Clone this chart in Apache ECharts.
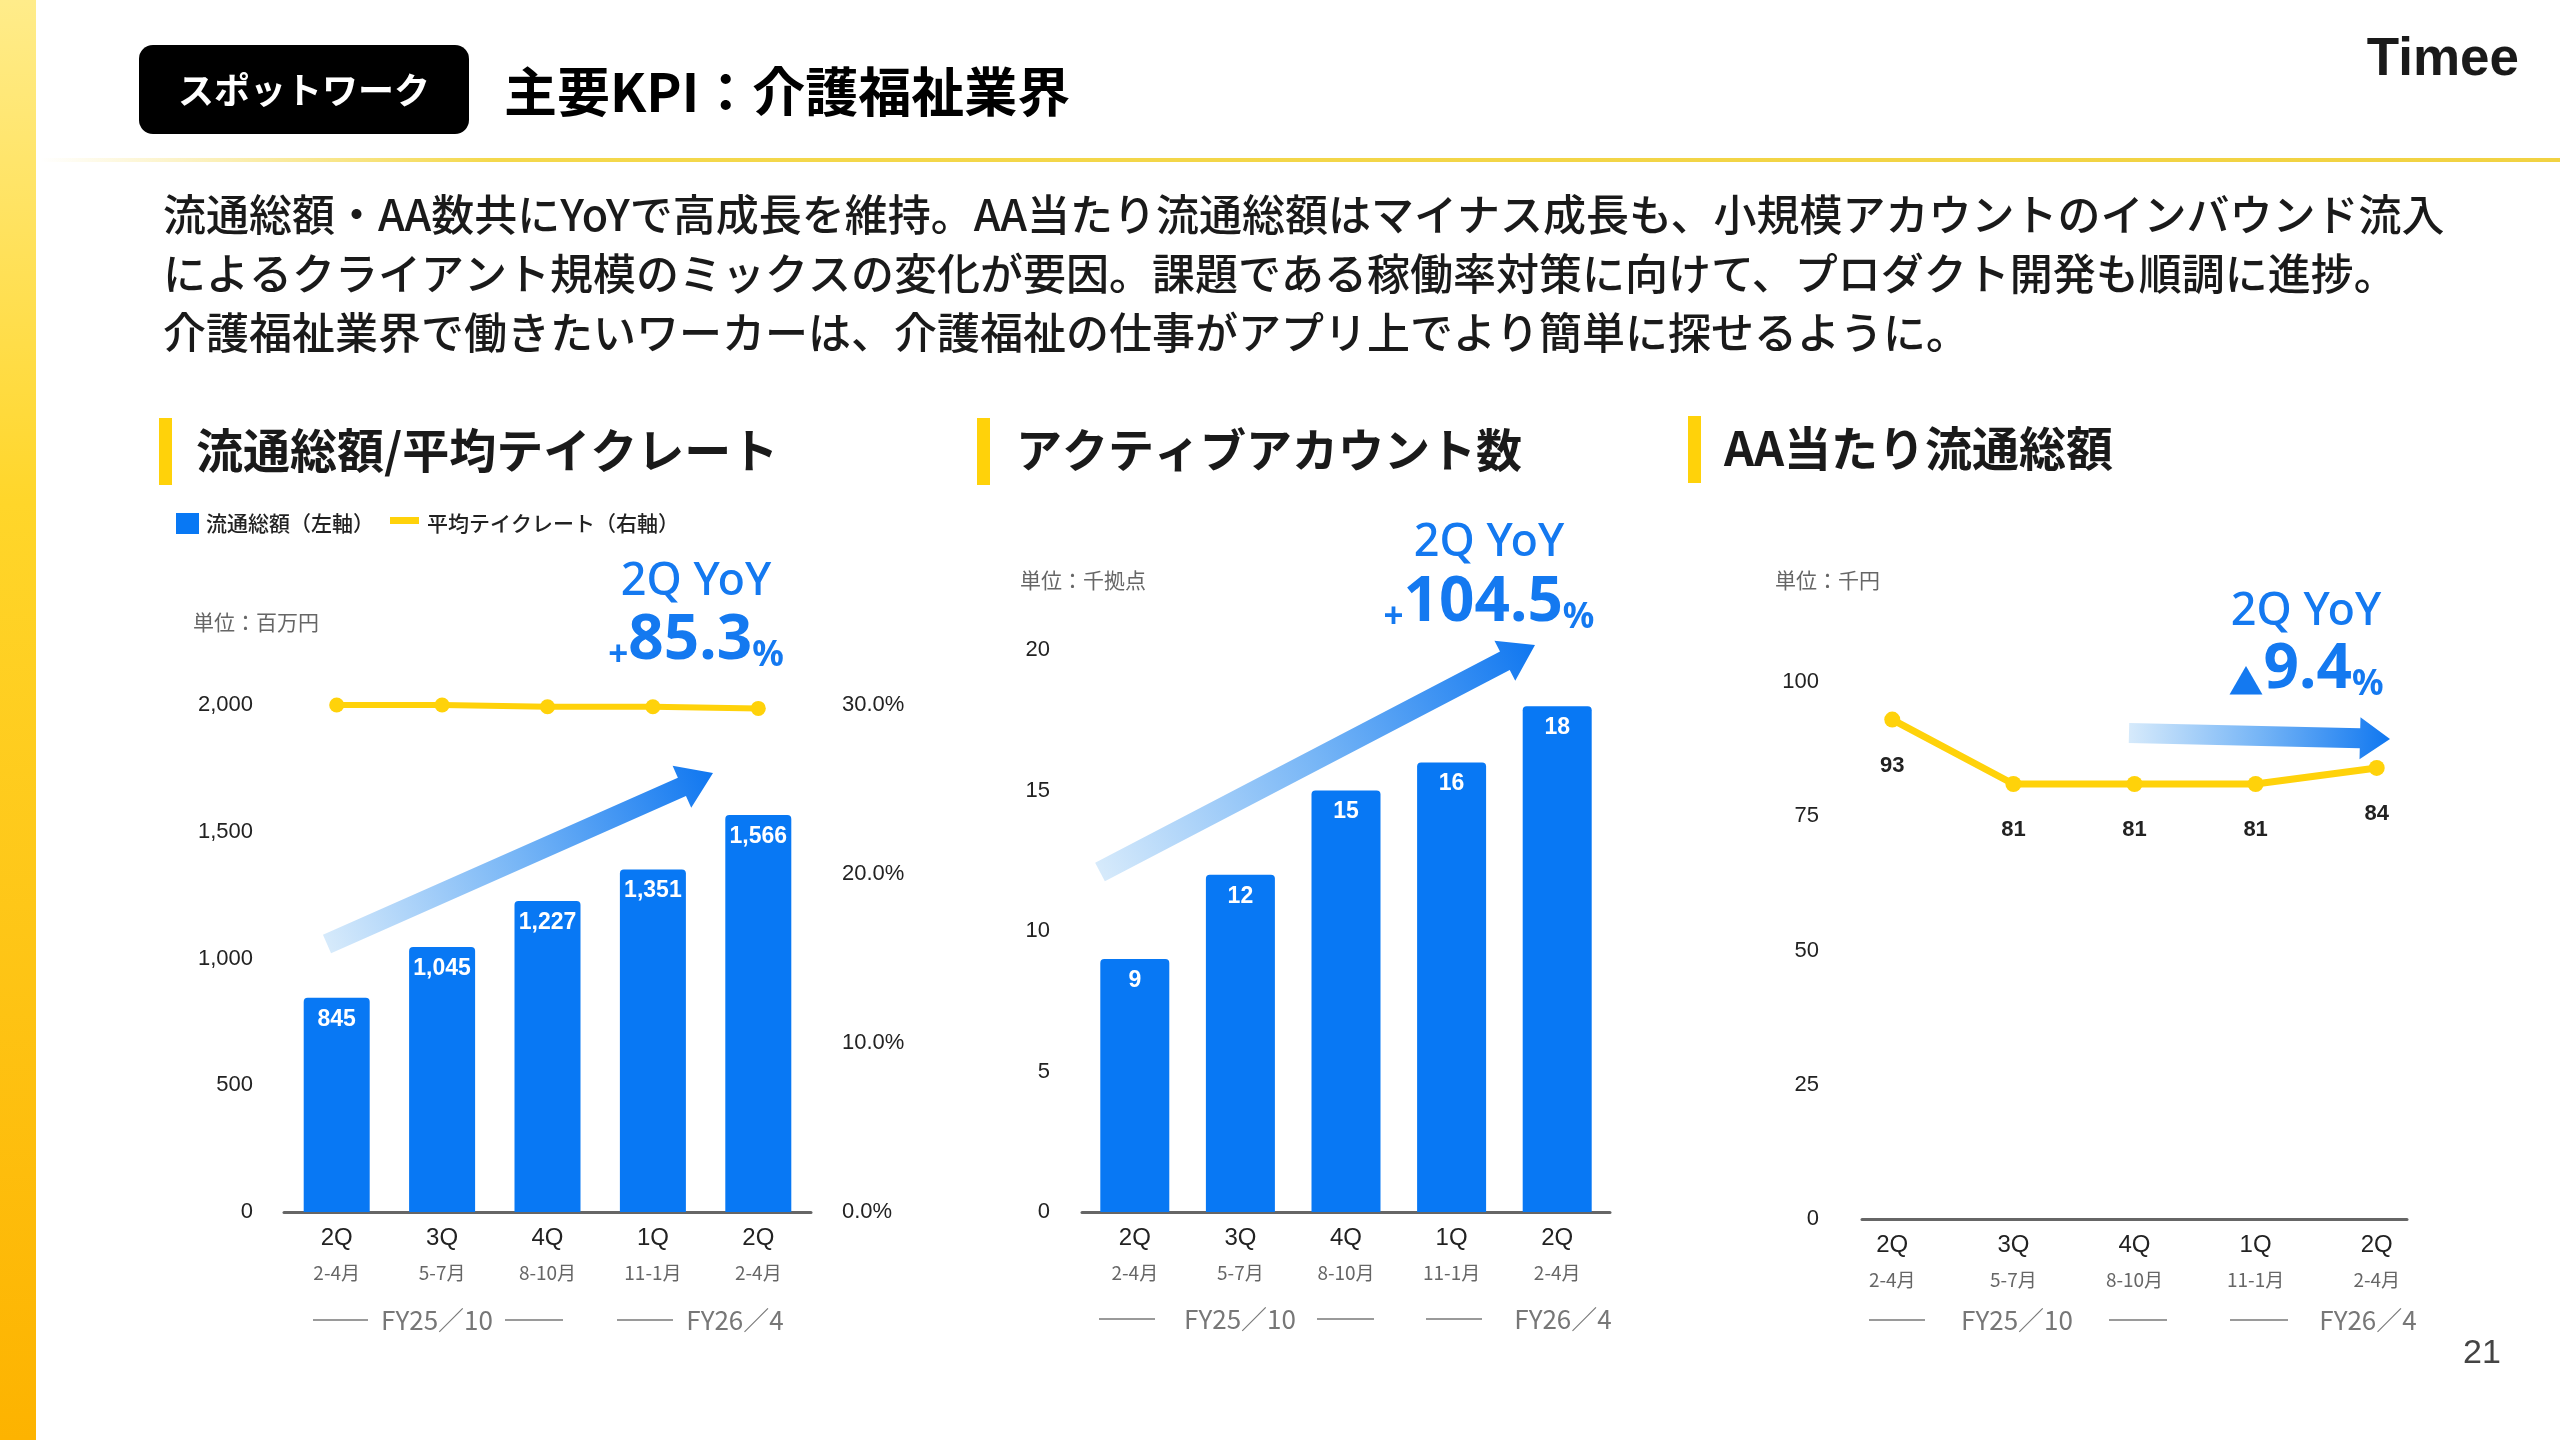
<!DOCTYPE html>
<html><head><meta charset="utf-8">
<script src="https://cdn.jsdelivr.net/npm/echarts@6/dist/echarts.min.js"></script>
<style>html,body{margin:0;padding:0;background:#fff}#c{width:2560px;height:1440px}</style>
</head><body><div id="c"></div>
<script>
// ---- data ----
const categories = ['2Q','3Q','4Q','1Q','2Q'];
const months = ['2-4月','5-7月','8-10月','11-1月','2-4月'];
const fiscalYears = ['FY25/10','FY25/10','FY25/10','FY26/4','FY26/4'];
const gmv = [845, 1045, 1227, 1351, 1566];            // 流通総額 (百万円)
const takeRate = [30.0, 30.0, 29.9, 29.9, 29.8];      // 平均テイクレート (%)
const activeAccounts = [9, 12, 15, 16, 18];           // アクティブアカウント数 (千拠点)
const gmvPerAA = [93, 81, 81, 81, 84];                // AA当たり流通総額 (千円)
const gmvTicks = [0, 500, 1000, 1500, 2000];
const rateTicks = [0, 10, 20, 30];
const aaTicks = [0, 5, 10, 15, 20];
const perAATicks = [0, 25, 50, 75, 100];

const JP = "'Noto Sans CJK JP', sans-serif";
const NUM = "'Liberation Sans','Noto Sans CJK JP', sans-serif";
const BLUE = '#0878F4';
const YEL = '#FFD20A';
const TXTBLUE = '#1479F0';

const keys = categories.map((c, i) => fiscalYears[i] + ' ' + c);
const xRich = {
  q: {fontSize: 24, color: '#222', fontFamily: NUM, lineHeight: 34},
  m: {fontSize: 19, color: '#666', fontFamily: JP, lineHeight: 36}
};
const xFmt = i => '{q|' + categories[i] + '}\n{m|' + months[i] + '}';

const chart = echarts.init(document.getElementById('c'));

function txt(x, y, text, o) {
  o = o || {};
  return {type: 'text', z: 50, style: Object.assign({
    text: text, x: x, y: y, fill: o.fill || '#1a1a1a',
    fontSize: o.size || 20, fontWeight: o.weight || 'normal',
    fontFamily: o.family || JP, align: o.align || 'left', verticalAlign: 'middle'
  }, o.extra || {})};
}
function rect(x, y, w, h, fill, r) {
  return {type: 'rect', z: 40, shape: {x: x, y: y, width: w, height: h, r: r || 0}, style: {fill: fill}};
}
function line(x1, x2, y) {
  return {type: 'line', z: 40, shape: {x1: x1, y1: y, x2: x2, y2: y}, style: {stroke: '#9a9a9a', lineWidth: 2}};
}
function arrow(t, p, sw, hw, hl) {
  const dx = p[0] - t[0], dy = p[1] - t[1], L = Math.hypot(dx, dy);
  const ux = dx / L, uy = dy / L, nx = -uy, ny = ux;
  const bx = p[0] - ux * hl, by = p[1] - uy * hl;
  const pts = [
    [t[0] + nx * sw / 2, t[1] + ny * sw / 2], [bx + nx * sw / 2, by + ny * sw / 2],
    [bx + nx * hw / 2, by + ny * hw / 2], [p[0], p[1]],
    [bx - nx * hw / 2, by - ny * hw / 2], [bx - nx * sw / 2, by - ny * sw / 2],
    [t[0] - nx * sw / 2, t[1] - ny * sw / 2]
  ];
  return {type: 'polygon', z: 45, shape: {points: pts}, style: {fill: {
    type: 'linear', x: t[0], y: t[1], x2: p[0], y2: p[1], global: true,
    colorStops: [{offset: 0, color: '#d6eafb'}, {offset: 0.5, color: '#76b5f6'}, {offset: 1, color: '#1077f0'}]
  }}};
}
function yoy(cx, y1, y2, sign, num) {
  return [
    txt(cx, y1, '2Q YoY', {fill: TXTBLUE, size: 45, weight: 500, family: "'Noto Sans', sans-serif", align: 'center'}),
    {type: 'text', z: 50, style: {
      text: '{s|' + sign + '}{b|' + num + '}{s|%}', x: cx, y: y2, align: 'center', verticalAlign: 'middle',
      rich: {
        s: {fontSize: 35, fontWeight: 'bold', fill: TXTBLUE, fontFamily: "'Noto Sans','Noto Sans CJK JP', sans-serif", lineHeight: 50, verticalAlign: 'bottom'},
        b: {fontSize: 62, fontWeight: 'bold', fill: TXTBLUE, fontFamily: "'Noto Sans', sans-serif", lineHeight: 66}
      }
    }}
  ];
}
function fy(l1, t1, l2, l3, t2, y) {
  return [
    line(l1[0], l1[1], y), line(l2[0], l2[1], y), line(l3[0], l3[1], y),
    txt(t1, y, 'FY25／10', {fill: '#777', size: 26, align: 'center'}),
    txt(t2, y, 'FY26／4', {fill: '#777', size: 26, align: 'center'})
  ];
}

const graphics = [].concat(
  [{type: 'rect', z: 30, shape: {x: 0, y: 0, width: 36, height: 1440}, style: {fill: {
    type: 'linear', x: 0, y: 0, x2: 0, y2: 1, colorStops: [
      {offset: 0, color: '#FFEC8A'}, {offset: 0.35, color: '#FFD62A'}, {offset: 1, color: '#FDB300'}]}}},
   {type: 'rect', z: 30, shape: {x: 40, y: 158, width: 2520, height: 4}, style: {fill: {
    type: 'linear', x: 0, y: 0, x2: 1, y2: 0, colorStops: [
      {offset: 0, color: 'rgba(245,215,70,0)'}, {offset: 0.18, color: '#F4D84C'}, {offset: 1, color: '#F1D242'}]}}},
   rect(139, 45, 330, 89, '#000', 14),
   txt(304, 90, 'スポットワーク', {fill: '#fff', size: 36, weight: 'bold', align: 'center'}),
   txt(504, 92, '主要KPI：介護福祉業界', {fill: '#000', size: 53, weight: 'bold'}),
   txt(2519, 60, 'Timee', {fill: '#1a1a1a', size: 53, weight: 'bold', family: NUM, align: 'right'}),
   txt(163, 215, '流通総額・AA数共にYoYで高成長を維持。AA当たり流通総額はマイナス成長も、小規模アカウントのインバウンド流入', {size: 43, weight: 500}),
   txt(163, 274, 'によるクライアント規模のミックスの変化が要因。課題である稼働率対策に向けて、プロダクト開発も順調に進捗。', {size: 43, weight: 500}),
   txt(163, 333, '介護福祉業界で働きたいワーカーは、介護福祉の仕事がアプリ上でより簡単に探せるように。', {size: 43, weight: 500}),
   // section headers
   rect(159, 418, 13, 67, YEL), txt(196, 450, '流通総額/平均テイクレート', {size: 47, weight: 'bold'}),
   rect(977, 418, 13, 67, YEL), txt(1016, 450, 'アクティブアカウント数', {size: 46, weight: 'bold'}),
   rect(1688, 416, 13, 67, YEL), txt(1724, 448, 'AA当たり流通総額', {size: 47, weight: 'bold'}),
   // legend
   rect(176, 513, 23, 21, BLUE), txt(206, 523, '流通総額（左軸）', {size: 21, weight: 500, fill: '#222'}),
   rect(390, 517, 29, 7, YEL), txt(427, 523, '平均テイクレート（右軸）', {size: 21, weight: 500, fill: '#222'}),
   // units
   txt(193, 622, '単位：百万円', {size: 21, fill: '#666'}),
   txt(1020, 580, '単位：千拠点', {size: 21, fill: '#666'}),
   txt(1775, 580, '単位：千円', {size: 21, fill: '#666'}),
   // arrows
   arrow([327, 944], [713, 773], 20, 46, 34),
   arrow([1100, 872], [1535, 645], 21, 45, 34),
   arrow([2129, 733], [2390, 739], 20, 42, 30),
   txt(2482, 1354, '21', {size: 34, fill: '#444', family: NUM, align: 'center'})
  ],
  yoy(696, 582, 641, '+', '85.3'),
  yoy(1489, 543, 603, '+', '104.5'),
  yoy(2306, 612, 670, '▲', '9.4'),
  fy([313, 368], 437, [505, 563], [617, 673], 735, 1320),
  fy([1099, 1155], 1240, [1317, 1374], [1426, 1482], 1563, 1319),
  fy([1869, 1925], 2017, [2109, 2167], [2230, 2288], 2368, 1320)
);

const yLab = {fontSize: 22, color: '#222', fontFamily: NUM};
const catAxis = (gi) => ({
  type: 'category', gridIndex: gi, data: keys, boundaryGap: true,
  axisLine: {show: true, lineStyle: {color: '#666', width: 3}},
  axisTick: {show: false},
  axisLabel: {margin: 9, formatter: (v, i) => xFmt(i), rich: xRich}
});

chart.setOption({
  animation: false,
  backgroundColor: '#fff',
  grid: [
    {left: 284, top: 705, width: 527, height: 507},
    {left: 1082, top: 650, width: 528, height: 562},
    {left: 1862, top: 682, width: 545, height: 537}
  ],
  xAxis: [
    catAxis(0),
    catAxis(1),
    {type: 'value', gridIndex: 2, min: -0.25, max: 4.25,
     axisLine: {show: true, lineStyle: {color: '#666', width: 3}},
     axisTick: {show: false}, splitLine: {show: false},
     axisLabel: {margin: 9, customValues: categories.map((c, i) => i),
                 formatter: v => xFmt(Math.round(v)), rich: xRich}}
  ],
  yAxis: [
    {type: 'value', gridIndex: 0, min: gmvTicks[0], max: gmvTicks[gmvTicks.length - 1], interval: gmvTicks[1] - gmvTicks[0],
     splitLine: {show: false}, axisLine: {show: false}, axisTick: {show: false},
     axisLabel: Object.assign({margin: 31, formatter: v => v.toLocaleString('en-US')}, yLab)},
    {type: 'value', gridIndex: 0, position: 'right', min: rateTicks[0], max: rateTicks[rateTicks.length - 1], interval: rateTicks[1] - rateTicks[0],
     splitLine: {show: false}, axisLine: {show: false}, axisTick: {show: false},
     axisLabel: Object.assign({margin: 31, formatter: v => v.toFixed(1) + '%'}, yLab)},
    {type: 'value', gridIndex: 1, min: aaTicks[0], max: aaTicks[aaTicks.length - 1], interval: aaTicks[1] - aaTicks[0],
     splitLine: {show: false}, axisLine: {show: false}, axisTick: {show: false},
     axisLabel: Object.assign({margin: 32}, yLab)},
    {type: 'value', gridIndex: 2, min: perAATicks[0], max: perAATicks[perAATicks.length - 1], interval: perAATicks[1] - perAATicks[0],
     splitLine: {show: false}, axisLine: {show: false}, axisTick: {show: false},
     axisLabel: Object.assign({margin: 43}, yLab)}
  ],
  series: [
    {type: 'bar', name: '流通総額', xAxisIndex: 0, yAxisIndex: 0, data: gmv, barWidth: 66,
     itemStyle: {color: BLUE, borderRadius: [4, 4, 0, 0]},
     label: {show: true, position: 'insideTop', distance: 10, color: '#fff', fontSize: 23, fontWeight: 'bold', fontFamily: NUM,
             formatter: p => p.value.toLocaleString('en-US')}},
    {type: 'line', name: '平均テイクレート', xAxisIndex: 0, yAxisIndex: 1, data: takeRate, z: 5,
     symbol: 'circle', symbolSize: 15, lineStyle: {color: YEL, width: 6}, itemStyle: {color: YEL}},
    {type: 'bar', name: 'アクティブアカウント数', xAxisIndex: 1, yAxisIndex: 2, data: activeAccounts, barWidth: 69,
     itemStyle: {color: BLUE, borderRadius: [4, 4, 0, 0]},
     label: {show: true, position: 'insideTop', distance: 10, color: '#fff', fontSize: 23, fontWeight: 'bold', fontFamily: NUM}},
    {type: 'line', name: 'AA当たり流通総額', xAxisIndex: 2, yAxisIndex: 3, data: gmvPerAA.map((v, i) => [i, v]), z: 5,
     symbol: 'circle', symbolSize: 16, lineStyle: {color: YEL, width: 7}, itemStyle: {color: YEL},
     label: {show: true, position: 'bottom', distance: 27, color: '#222', fontSize: 22, fontWeight: 'bold', fontFamily: NUM,
             formatter: p => p.value[1]}}
  ],
  graphic: graphics
});
</script></body></html>
